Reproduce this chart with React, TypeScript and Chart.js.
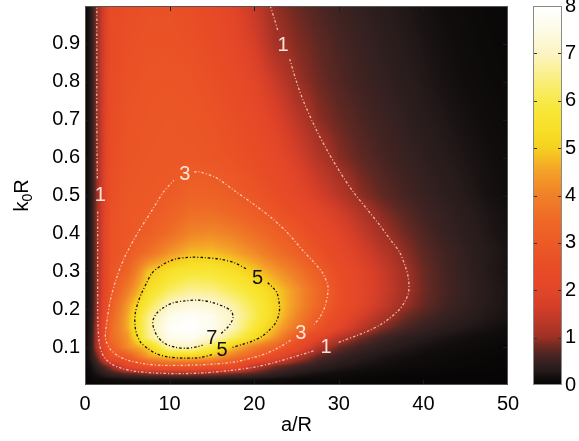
import React, { useEffect, useRef } from "react";
import { Chart, registerables } from "chart.js";

Chart.register(...registerables);

const FONT_FAMILY = "'Liberation Sans', Arial, Helvetica, sans-serif";

// ---- axes ----
const xMin = 0;
const xMax = 50;
const yMin = 0;
const yMax = 1;
const cbMin = 0;
const cbMax = 8;
const xTicks = [0, 10, 20, 30, 40, 50];
const yTicks = [0.1, 0.2, 0.3, 0.4, 0.5, 0.6, 0.7, 0.8, 0.9];
const cbTicks = [0, 1, 2, 3, 4, 5, 6, 7, 8];
const xTitle = "a/R";
const yTitleMain = "k";
const yTitleSub = "0";
const yTitleEnd = "R";

// ---- field samples (a/R columns, k0R rows) ----
const xNodes = [0, 0.75, 1.5, 3, 5, 7.5, 10, 12.5, 15, 17.5, 20, 22.5, 25, 27.5, 30, 32.5, 35, 37.5, 40, 42.5, 45, 47.5, 50];
const yNodes = [0, 0.015, 0.03, 0.05, 0.075, 0.1, 0.125, 0.15, 0.18, 0.21, 0.25, 0.3, 0.35, 0.4, 0.45, 0.5, 0.6, 0.7, 0.8, 0.9, 1.0];
const zRows = [
  [0, 0, 0, 0, 0, 0, 0, 0, 0, 0, 0, 0, 0, 0, 0, 0, 0, 0, 0, 0, 0, 0, 0],
  [0, 0.05, 0.1, 0.15, 0.2, 0.24, 0.26, 0.26, 0.25, 0.23, 0.2, 0.15, 0.1, 0.08, 0.06, 0.04, 0.03, 0.02, 0.02, 0.01, 0.01, 0.01, 0],
  [0, 0.12, 0.25, 0.5, 0.75, 0.95, 1.05, 1.05, 0.98, 0.85, 0.7, 0.45, 0.3, 0.2, 0.14, 0.1, 0.07, 0.05, 0.04, 0.03, 0.02, 0.02, 0.01],
  [0, 0.2, 0.45, 1.0, 2.05, 2.75, 2.95, 2.95, 2.8, 2.5, 1.35, 0.85, 0.6, 0.42, 0.3, 0.22, 0.16, 0.12, 0.09, 0.07, 0.05, 0.04, 0.03],
  [0, 0.35, 0.85, 2.6, 3.05, 4.45, 5.0, 5.05, 4.7, 3.85, 3.15, 2.3, 1.3, 0.75, 0.5, 0.35, 0.25, 0.18, 0.13, 0.1, 0.07, 0.05, 0.04],
  [0, 0.4, 1.3, 3.1, 4.2, 5.05, 6.9, 7.0, 6.0, 4.9, 4.0, 3.3, 2.35, 1.3, 0.8, 0.55, 0.4, 0.29, 0.21, 0.15, 0.11, 0.08, 0.06],
  [0, 0.4, 1.35, 3.45, 4.3, 6.5, 7.6, 7.7, 7.2, 6.3, 5.3, 4.3, 3.0, 2.0, 1.3, 0.85, 0.58, 0.42, 0.31, 0.23, 0.17, 0.12, 0.09],
  [0, 0.38, 1.3, 3.4, 4.6, 6.6, 7.8, 8.0, 7.65, 6.9, 5.8, 4.75, 3.75, 2.8, 2.0, 1.35, 0.9, 0.65, 0.48, 0.36, 0.27, 0.2, 0.14],
  [0, 0.36, 1.2, 3.25, 4.6, 6.5, 7.6, 7.85, 7.6, 7.0, 6.1, 5.08, 4.1, 3.1, 2.3, 1.7, 1.2, 0.85, 0.64, 0.48, 0.37, 0.27, 0.2],
  [0, 0.35, 1.15, 3.05, 4.4, 6.0, 7.1, 7.35, 7.25, 6.75, 6.0, 5.15, 4.3, 3.4, 2.6, 2.0, 1.5, 1.03, 0.78, 0.58, 0.44, 0.31, 0.22],
  [0, 0.35, 1.12, 2.8, 3.9, 5.35, 6.2, 6.6, 6.5, 6.1, 5.6, 5.02, 4.3, 3.45, 2.65, 2.05, 1.6, 1.12, 0.82, 0.62, 0.47, 0.33, 0.23],
  [0, 0.35, 1.1, 2.75, 3.3, 4.85, 5.4, 5.72, 5.7, 5.4, 4.95, 4.4, 3.8, 3.1, 2.5, 2.0, 1.55, 1.1, 0.8, 0.6, 0.45, 0.3, 0.2],
  [0, 0.35, 1.1, 2.68, 2.98, 3.6, 4.3, 4.75, 4.8, 4.55, 4.15, 3.65, 3.18, 2.7, 2.2, 1.75, 1.32, 0.97, 0.74, 0.57, 0.43, 0.31, 0.21],
  [0, 0.35, 1.1, 2.72, 2.9, 3.12, 3.55, 4.05, 4.15, 3.95, 3.6, 3.2, 2.85, 2.4, 1.95, 1.5, 1.08, 0.85, 0.66, 0.5, 0.38, 0.27, 0.18],
  [0, 0.35, 1.1, 2.65, 2.93, 2.99, 3.25, 3.6, 3.62, 3.4, 3.12, 2.82, 2.5, 2.1, 1.68, 1.25, 0.93, 0.74, 0.58, 0.46, 0.35, 0.25, 0.17],
  [0, 0.35, 1.08, 2.58, 2.88, 2.94, 3.03, 3.28, 3.25, 3.07, 2.85, 2.55, 2.15, 1.72, 1.3, 0.95, 0.76, 0.62, 0.5, 0.4, 0.3, 0.2, 0.14],
  [0, 0.35, 1.05, 2.5, 2.8, 2.88, 2.9, 2.9, 2.85, 2.72, 2.5, 2.18, 1.72, 1.25, 0.92, 0.75, 0.62, 0.51, 0.41, 0.32, 0.24, 0.17, 0.12],
  [0, 0.35, 1.05, 2.45, 2.75, 2.85, 2.88, 2.85, 2.75, 2.58, 2.28, 1.85, 1.35, 0.95, 0.78, 0.65, 0.54, 0.44, 0.34, 0.26, 0.19, 0.13, 0.09],
  [0, 0.35, 1.05, 2.4, 2.7, 2.8, 2.82, 2.78, 2.62, 2.38, 2.0, 1.5, 1.02, 0.82, 0.68, 0.56, 0.46, 0.37, 0.28, 0.2, 0.14, 0.1, 0.07],
  [0, 0.35, 1.05, 2.35, 2.62, 2.72, 2.72, 2.65, 2.45, 2.15, 1.7, 1.1, 0.9, 0.75, 0.62, 0.51, 0.41, 0.32, 0.24, 0.17, 0.12, 0.08, 0.06],
  [0, 0.35, 1.05, 2.3, 2.55, 2.65, 2.65, 2.55, 2.3, 1.95, 1.45, 0.97, 0.8, 0.66, 0.54, 0.44, 0.35, 0.27, 0.2, 0.14, 0.1, 0.07, 0.05],
];

// ---- colour map (value -> colour) ----
const cmapValues = [0, 0.15, 0.3, 0.45, 0.6, 0.75, 0.9, 1.0, 1.35, 1.65, 2.0, 2.5, 3.0, 3.4, 4.0, 4.5, 5.0, 5.4, 5.8, 6.2, 7.0, 7.6, 8.0];
const cmapColors = [
  "#060404", "#110d0d", "#251a1a", "#332020", "#452422", "#602822", "#842c22", "#9c3024",
  "#bc3828", "#d43e28", "#e24628", "#e84c26", "#ec5a26", "#ee6626", "#f08028", "#f4a028",
  "#f6d020", "#f8e028", "#f8e638", "#f9ec60", "#fcf4c4", "#fefcec", "#ffffff",
];

// ---- contour paths (a/R, k0R) ----
const contour1Segments = [
  [[21.9, 1.0], [22.4, 0.965], [22.8, 0.935]],
  [[24.2, 0.86], [25.0, 0.8], [25.8, 0.75], [27.2, 0.68], [28.6, 0.62], [30.2, 0.56], [31.7, 0.51], [33.3, 0.465], [34.9, 0.42], [36.2, 0.38], [37.2, 0.35], [37.9, 0.31], [38.2, 0.285], [38.3, 0.26], [38.2, 0.24], [37.8, 0.22], [37.2, 0.2], [36.0, 0.176], [34.9, 0.159], [33.7, 0.145], [32.2, 0.131], [29.9, 0.112]],
  [[27.0, 0.09], [24.5, 0.073], [22.5, 0.06], [20, 0.047], [17, 0.038], [14, 0.032], [11, 0.03], [8, 0.032], [6, 0.036], [4.5, 0.043], [3.3, 0.053], [2.5, 0.067], [2.0, 0.085], [1.7, 0.11], [1.55, 0.15], [1.5, 0.2], [1.5, 0.3], [1.5, 0.46]],
  [[1.45, 0.545], [1.4, 0.7], [1.4, 0.85], [1.4, 1.0]],
];
const contour3Segments = [
  [[12.9, 0.562], [13.4, 0.563], [15.5, 0.547], [17.7, 0.512], [20.0, 0.476], [22.1, 0.44], [24.0, 0.4], [25.7, 0.356], [27.0, 0.325], [28.1, 0.295], [28.7, 0.262], [28.7, 0.243], [28.4, 0.21], [27.8, 0.18], [27.1, 0.16]],
  [[24.3, 0.118], [23, 0.1], [21.5, 0.084], [20, 0.073], [17.7, 0.061], [15, 0.055], [12, 0.052], [9, 0.052], [7, 0.056], [5.1, 0.065], [3.9, 0.077], [3.0, 0.094], [2.5, 0.115], [2.4, 0.13], [2.6, 0.17], [3.0, 0.224], [3.7, 0.28], [4.7, 0.338], [6.2, 0.4], [7.9, 0.46], [9.3, 0.51], [10.5, 0.54]],
];
const contour5Segments = [
  [[21.6, 0.27], [22.2, 0.257], [22.7, 0.243], [23.0, 0.206], [22.9, 0.185], [22.5, 0.163], [21.8, 0.145], [20.9, 0.128], [19.8, 0.116], [18.6, 0.107], [17.4, 0.099]],
  [[15.0, 0.08], [13.8, 0.073], [13, 0.071], [11.5, 0.071], [9.8, 0.074], [8.5, 0.082], [7.5, 0.095], [6.6, 0.112], [6.1, 0.135], [5.9, 0.16], [5.95, 0.19], [6.3, 0.22], [6.7, 0.243], [7.3, 0.27], [7.9, 0.295], [9, 0.315], [10.6, 0.332], [12.5, 0.337], [14.2, 0.336], [16, 0.332], [17.7, 0.322], [19.1, 0.306]],
];
const contour7Segments = [
  [[16.1, 0.136], [16.9, 0.153], [17.4, 0.17], [17.5, 0.18], [17.3, 0.195], [16.5, 0.206], [15, 0.218], [13.4, 0.224], [11.8, 0.222], [10.3, 0.216], [9.2, 0.203], [8.5, 0.19], [8.1, 0.175], [8.0, 0.163], [8.2, 0.145], [8.6, 0.127], [9.4, 0.11], [10.6, 0.1], [12, 0.097], [13.3, 0.101], [13.9, 0.105]],
];

// ---- contour labels ----
const labelTexts = ["1", "1", "1", "3", "3", "5", "5", "7"];
const labelX = [23.4, 1.8, 28.5, 11.8, 25.5, 20.4, 16.2, 15.0];
const labelY = [0.897, 0.5, 0.1, 0.555, 0.135, 0.282, 0.09, 0.122];

const LIGHT_TEXT = "rgba(255,236,226,0.95)";
const LIGHT_LINE = "rgba(255,232,220,0.75)";
const DARK = "#111111";

function buildLut() {
  const rgb = cmapColors.map((h) => [
    parseInt(h.slice(1, 3), 16),
    parseInt(h.slice(3, 5), 16),
    parseInt(h.slice(5, 7), 16),
  ]);
  const n = 801;
  const lut = new Uint8ClampedArray(n * 3);
  for (let k = 0; k < n; k++) {
    const v = (k / (n - 1)) * cbMax;
    let i = 0;
    while (i < cmapValues.length - 2 && v > cmapValues[i + 1]) i++;
    const t = Math.min(1, Math.max(0, (v - cmapValues[i]) / (cmapValues[i + 1] - cmapValues[i])));
    for (let c = 0; c < 3; c++) lut[k * 3 + c] = rgb[i][c] + (rgb[i + 1][c] - rgb[i][c]) * t;
  }
  return lut;
}

function locate(nodes: number[], v: number): [number, number] {
  let i = 0;
  while (i < nodes.length - 2 && v > nodes[i + 1]) i++;
  const t = Math.min(1, Math.max(0, (v - nodes[i]) / (nodes[i + 1] - nodes[i])));
  return [i, t];
}

const heatmapPlugin = {
  id: "heatmap",
  beforeDatasetsDraw(chart: any) {
    const { ctx, chartArea: ca } = chart;
    const xs = chart.scales.x;
    const ys = chart.scales.y;
    const left = Math.round(ca.left);
    const top = Math.round(ca.top);
    const w = Math.round(ca.right) - left;
    const h = Math.round(ca.bottom) - top;
    const lut = buildLut();
    const off = document.createElement("canvas");
    off.width = w;
    off.height = h;
    const octx = off.getContext("2d")!;
    const img = octx.createImageData(w, h);
    const ci = new Int32Array(w);
    const ct = new Float64Array(w);
    for (let px = 0; px < w; px++) {
      const [i, t] = locate(xNodes, xs.getValueForPixel(left + px + 0.5));
      ci[px] = i;
      ct[px] = t;
    }
    for (let py = 0; py < h; py++) {
      const [j, u] = locate(yNodes, ys.getValueForPixel(top + py + 0.5));
      const r0 = zRows[j];
      const r1 = zRows[j + 1];
      for (let px = 0; px < w; px++) {
        const i = ci[px];
        const t = ct[px];
        const a = r0[i] + (r0[i + 1] - r0[i]) * t;
        const b = r1[i] + (r1[i + 1] - r1[i]) * t;
        const v = a + (b - a) * u;
        const k = Math.max(0, Math.min(800, Math.round((v / cbMax) * 800))) * 3;
        const o = (py * w + px) * 4;
        img.data[o] = lut[k];
        img.data[o + 1] = lut[k + 1];
        img.data[o + 2] = lut[k + 2];
        img.data[o + 3] = 255;
      }
    }
    octx.putImageData(img, 0, 0);
    ctx.drawImage(off, left, top);
  },
};

const overlayPlugin = {
  id: "overlay",
  afterDatasetsDraw(chart: any) {
    const { ctx, chartArea: ca } = chart;
    const xs = chart.scales.x;
    const ys = chart.scales.y;
    const cb = chart.scales.cb;
    ctx.save();

    // contour labels
    ctx.font = `20px ${FONT_FAMILY}`;
    ctx.textAlign = "center";
    ctx.textBaseline = "middle";
    for (let k = 0; k < labelTexts.length; k++) {
      ctx.fillStyle = Number(labelTexts[k]) <= 3 ? LIGHT_TEXT : DARK;
      ctx.fillText(labelTexts[k], xs.getPixelForValue(labelX[k]), ys.getPixelForValue(labelY[k]));
    }

    // inward tick marks on all four sides
    ctx.strokeStyle = "#1a1a1a";
    ctx.lineWidth = 1;
    ctx.beginPath();
    for (const v of xTicks) {
      if (v === xMin || v === xMax) continue;
      const p = Math.round(xs.getPixelForValue(v)) + 0.5;
      ctx.moveTo(p, ca.bottom);
      ctx.lineTo(p, ca.bottom - 5);
      ctx.moveTo(p, ca.top);
      ctx.lineTo(p, ca.top + 5);
    }
    for (const v of yTicks) {
      const p = Math.round(ys.getPixelForValue(v)) + 0.5;
      ctx.moveTo(ca.left, p);
      ctx.lineTo(ca.left + 5, p);
      ctx.moveTo(ca.right, p);
      ctx.lineTo(ca.right - 5, p);
    }
    ctx.stroke();

    // axes box
    ctx.strokeStyle = "#555555";
    ctx.strokeRect(ca.left + 0.5, ca.top + 0.5, ca.right - ca.left - 1, ca.bottom - ca.top - 1);

    // colour bar
    const x0 = Math.round(cb.left) + 25;
    const bw = 29;
    const yb = cb.getPixelForValue(cbMin);
    const yt = cb.getPixelForValue(cbMax);
    const g = ctx.createLinearGradient(0, yb, 0, yt);
    cmapValues.forEach((v, i) => g.addColorStop((v - cbMin) / (cbMax - cbMin), cmapColors[i]));
    ctx.fillStyle = g;
    ctx.fillRect(x0, yt, bw, yb - yt);
    ctx.strokeStyle = "#333333";
    ctx.beginPath();
    for (const v of cbTicks) {
      if (v === cbMin || v === cbMax) continue;
      const p = Math.round(cb.getPixelForValue(v)) + 0.5;
      ctx.moveTo(x0, p);
      ctx.lineTo(x0 + 4, p);
      ctx.moveTo(x0 + bw, p);
      ctx.lineTo(x0 + bw - 4, p);
    }
    ctx.stroke();
    ctx.strokeStyle = "#8a8a8a";
    ctx.strokeRect(x0 + 0.5, yt + 0.5, bw - 1, yb - yt - 1);

    // axis titles
    ctx.fillStyle = "#000000";
    ctx.font = `20px ${FONT_FAMILY}`;
    ctx.textAlign = "center";
    ctx.textBaseline = "middle";
    ctx.fillText(xTitle, (ca.left + ca.right) / 2, 425);

    ctx.save();
    ctx.translate(21, (ca.top + ca.bottom) / 2);
    ctx.rotate(-Math.PI / 2);
    const mainFont = `20px ${FONT_FAMILY}`;
    const subFont = `14px ${FONT_FAMILY}`;
    ctx.font = mainFont;
    const wK = ctx.measureText(yTitleMain).width;
    const wR = ctx.measureText(yTitleEnd).width;
    ctx.font = subFont;
    const wS = ctx.measureText(yTitleSub).width;
    const total = wK + wS + wR;
    let cx = -total / 2;
    ctx.textAlign = "left";
    ctx.textBaseline = "alphabetic";
    ctx.font = mainFont;
    ctx.fillText(yTitleMain, cx, 7);
    cx += wK;
    ctx.font = subFont;
    ctx.fillText(yTitleSub, cx, 11);
    cx += wS;
    ctx.font = mainFont;
    ctx.fillText(yTitleEnd, cx, 7);
    ctx.restore();

    ctx.restore();
  },
};

function makeDatasets() {
  const groups = [
    { segs: contour1Segments, color: LIGHT_LINE },
    { segs: contour3Segments, color: LIGHT_LINE },
    { segs: contour5Segments, color: DARK },
    { segs: contour7Segments, color: DARK },
  ];
  const out: any[] = [];
  groups.forEach((gr) => {
    gr.segs.forEach((seg) => {
      out.push({
        type: "scatter",
        data: seg.map(([x, y]) => ({ x, y })),
        showLine: true,
        pointRadius: 0,
        borderColor: gr.color,
        borderWidth: 1.3,
        borderDash: [2.5, 2, 1, 2],
        tension: 0.3,
        fill: false,
      });
    });
  });
  return out;
}

const tickFont = { family: FONT_FAMILY, size: 20 };

export default function App() {
  const ref = useRef<HTMLCanvasElement>(null);
  useEffect(() => {
    document.body.style.margin = "0";
    const chart = new Chart(ref.current as HTMLCanvasElement, {
      type: "scatter",
      data: { datasets: makeDatasets() },
      plugins: [heatmapPlugin, overlayPlugin],
      options: {
        responsive: false,
        animation: false,
        events: [],
        layout: { padding: { left: 0, right: 0, top: 6, bottom: 0 } },
        plugins: { legend: { display: false }, tooltip: { enabled: false } },
        scales: {
          x: {
            type: "linear",
            position: "bottom",
            min: xMin,
            max: xMax,
            afterBuildTicks: (s: any) => {
              s.ticks = xTicks.map((v) => ({ value: v }));
            },
            afterFit: (s: any) => {
              s.height = 56;
              s.paddingLeft = 0;
              s.paddingRight = 0;
            },
            grid: { display: false, drawTicks: false },
            border: { display: false },
            ticks: {
              padding: 7,
              color: "#000",
              font: tickFont,
              maxRotation: 0,
              autoSkip: false,
              callback: (v: any) => String(v),
            },
          },
          y: {
            type: "linear",
            position: "left",
            min: yMin,
            max: yMax,
            afterBuildTicks: (s: any) => {
              s.ticks = yTicks.map((v) => ({ value: v }));
            },
            afterFit: (s: any) => {
              s.width = 85;
              s.paddingTop = 0;
              s.paddingBottom = 0;
            },
            grid: { display: false, drawTicks: false },
            border: { display: false },
            ticks: {
              padding: 5,
              color: "#000",
              font: tickFont,
              autoSkip: false,
              callback: (v: any) => Number(v).toFixed(1),
            },
          },
          cb: {
            type: "linear",
            axis: "y",
            position: "right",
            min: cbMin,
            max: cbMax,
            afterBuildTicks: (s: any) => {
              s.ticks = cbTicks.map((v) => ({ value: v }));
            },
            afterFit: (s: any) => {
              s.width = 71;
              s.paddingTop = 0;
              s.paddingBottom = 0;
            },
            grid: { display: false, drawTicks: false },
            border: { display: false },
            ticks: {
              padding: 57,
              color: "#000",
              font: tickFont,
              autoSkip: false,
              callback: (v: any) => String(v),
            },
          },
        },
      } as any,
    });
    return () => chart.destroy();
  }, []);
  return (
    <div style={{ width: 579, height: 441, background: "#ffffff" }}>
      <canvas ref={ref} width={579} height={441} style={{ display: "block" }} />
    </div>
  );
}
